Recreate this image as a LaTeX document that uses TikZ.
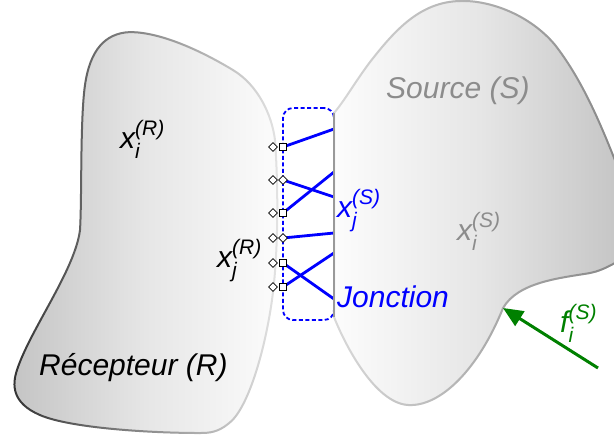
\documentclass[tikz,border=0pt]{standalone}
\usepackage{fontspec}
\setmainfont{Liberation Sans}
\usepackage{amsmath}
\usetikzlibrary{shapes.geometric,arrows.meta,fadings}
\tikzfading[name=fadetoright, left color=transparent!100, right color=transparent!0]
\tikzfading[name=fadetoleft, left color=transparent!0, right color=transparent!100]
\definecolor{fgreen}{RGB}{0,128,0}
\definecolor{txtgray}{RGB}{140,140,140}
\definecolor{shdark}{RGB}{196,196,196}
\definecolor{shmid}{RGB}{230,230,230}
\definecolor{shlight}{RGB}{252,252,252}
\pgfdeclarehorizontalshading{recshade}{100bp}{color(0bp)=(shdark); color(25bp)=(shdark); color(50bp)=(shmid); color(75bp)=(shlight); color(100bp)=(shlight)}
\pgfdeclarehorizontalshading{srcshade}{100bp}{color(0bp)=(shlight); color(25bp)=(shlight); color(50bp)=(shmid); color(75bp)=(shdark); color(100bp)=(shdark)}
\newcommand{\vsym}[3]{#1$_{\text{#2}}^{\text{#3}}$}
\def\recpath{(130,32) .. controls (160,32) and (200,50) .. (233,70)
 .. controls (258,85) and (272,115) .. (275,140)
 .. controls (278,180) and (279,250) .. (272,300)
 .. controls (265,350) and (248,410) .. (228,424)
 .. controls (218,432) and (210,433) .. (200,433)
 .. controls (150,433) and (70,428) .. (40,415)
 .. controls (12,403) and (12,385) .. (17,370)
 .. controls (30,330) and (75,270) .. (80,230)
 .. controls (82,200) and (80,120) .. (85,85)
 .. controls (90,50) and (105,33) .. (130,32) -- cycle}
\def\srcpath{(334,113) -- (334,317)
 .. controls (345,345) and (375,403) .. (408,405)
 .. controls (440,407) and (478,370) .. (503,308)
 .. controls (518,282) and (560,278) .. (590,273)
 .. controls (605,270) and (615,262) .. (625,258)
 -- (625,185)
 .. controls (610,150) and (590,90) .. (555,45)
 .. controls (530,15) and (490,0) .. (460,1)
 .. controls (420,2) and (395,30) .. (370,62)
 .. controls (355,82) and (345,100) .. (334,113) -- cycle}
\begin{document}
\begin{tikzpicture}[x=1pt,y=-1pt,
  lbl/.style={font=\fontsize{30}{34}\selectfont\itshape, inner sep=0pt, anchor=base west},
  conn/.style={draw=blue, line width=2.8pt},
  jbox/.style={draw=blue, dash pattern=on 4pt off 2.5pt, line width=1.8pt, rounded corners=10pt,
    minimum width=51pt, minimum height=212pt, inner sep=0pt},
  mdia/.style={diamond, draw=black, fill=white, line width=0.8pt, inner sep=0pt, minimum size=9pt},
  msq/.style={rectangle, draw=black, fill=white, line width=0.8pt, inner sep=0pt, minimum size=7pt},
  farrow/.style={draw=fgreen, line width=3pt, -{Triangle[length=20pt,width=17pt]}}]
\useasboundingbox (0,0) rectangle (614,439);
\clip (0,0) rectangle (614,439);
% Source shape
\shade[shading=srcshade] \srcpath;
\draw[white!85!black, line width=2pt] \srcpath;
\draw[black!48, line width=2pt, path fading=fadetoright] \srcpath;
% Recepteur shape
\shade[shading=recshade] \recpath;
\draw[white!90!black, line width=2pt] \recpath;
\draw[black!80, line width=2pt, path fading=fadetoleft] \recpath;
% junction
\node[jbox] (junc) at (308.5,214) {};
\coordinate (sTop) at (334,113);
\coordinate (sBot) at (334,317);
\foreach \i/\y in {1/147,2/180,3/213,4/238,5/263,6/287} {
  \coordinate (L\i) at (283,\y);
  \coordinate (D\i) at (273,\y);
}
\foreach \i/\y in {1/129,2/172,3/197,4/233,5/253,6/299} {
  \coordinate (R\i) at (334,\y);
}
\draw[conn] (L1) -- (R1);
\draw[conn] (L2) -- (R3);
\draw[conn] (L3) -- (R2);
\draw[conn] (L4) -- (R4);
\draw[conn] (L5) -- (R6);
\draw[conn] (L6) -- (R5);
\draw[black!40, line width=2.5pt] (sTop) -- (sBot);
\foreach \i in {1,...,6} { \node[mdia] (dd\i) at (D\i) {}; }
\node[msq] (m1) at (L1) {};
\node[mdia] (m2) at (L2) {};
\node[msq] (m3) at (L3) {};
\node[mdia] (m4) at (L4) {};
\node[msq] (m5) at (L5) {};
\node[msq] (m6) at (L6) {};
% labels
\node[lbl] (xiR) at (120,148) {\vsym{x}{i}{(R)}};
\node[lbl] (xjR) at (217,267) {\vsym{x}{j}{(R)}};
\node[lbl] (rec) at (39,375) {Récepteur (R)};
\node[lbl, text=txtgray] (src) at (386,98) {Source (S)};
\node[lbl, text=blue] (xjS) at (337,217) {\vsym{x}{j}{(S)}};
\node[lbl, text=txtgray] (xiS) at (457,240) {\vsym{x}{i}{(S)}};
\node[lbl, text=blue] (jon) at (337,307) {Jonction};
\node[lbl, text=fgreen] (fiS) at (560,332) {\vsym{f}{i}{(S)}};
% force arrow
\coordinate (ftail) at (598,368);
\coordinate (ftip) at (503,308);
\draw[farrow] (ftail) -- (ftip);
\end{tikzpicture}
\end{document}
